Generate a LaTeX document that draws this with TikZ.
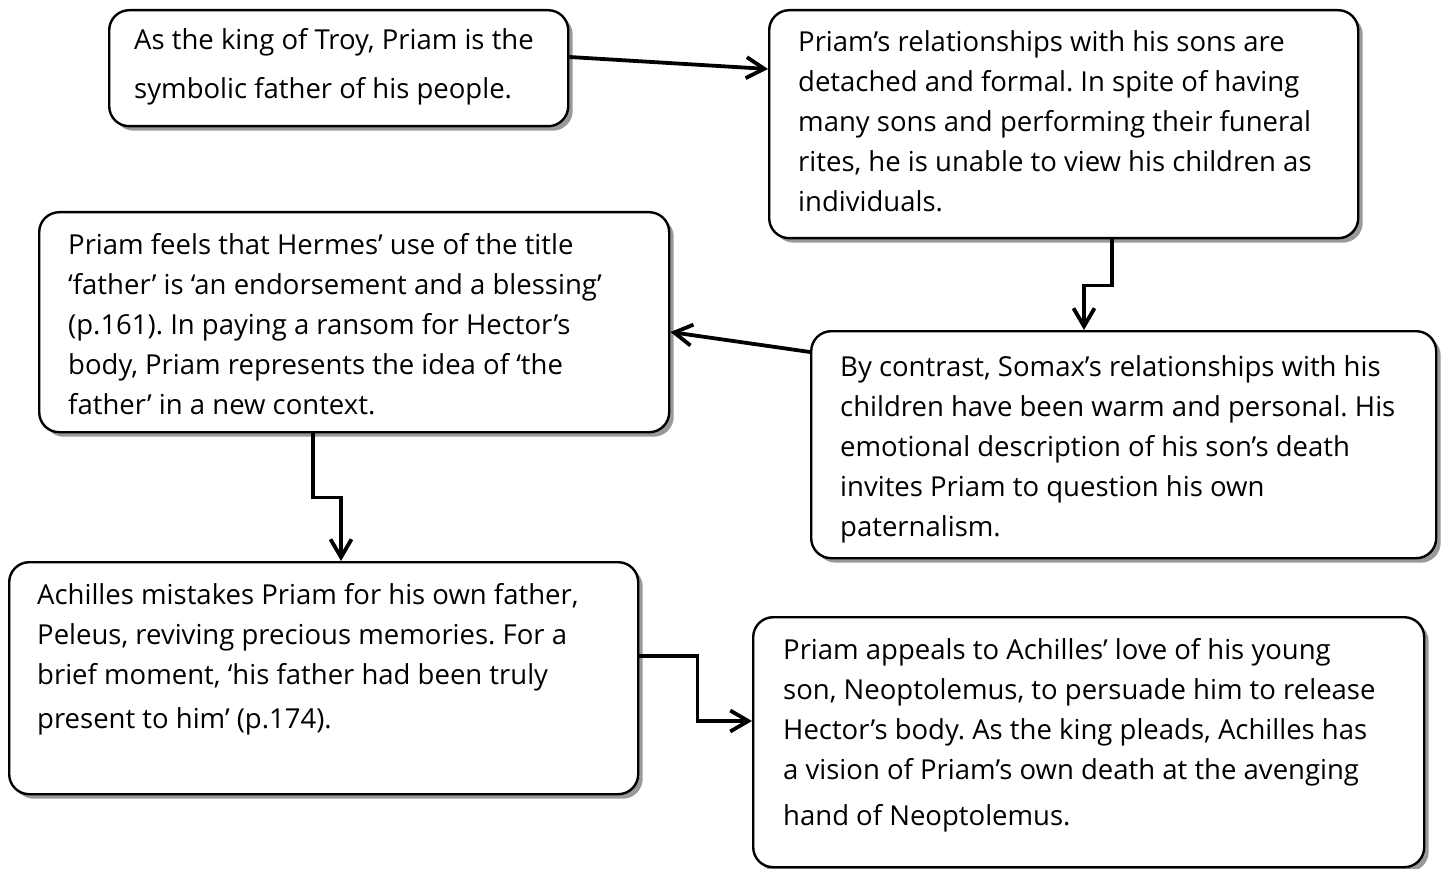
\documentclass[tikz,border=0pt]{standalone}
\usepackage{fontspec}
\setmainfont{Open Sans}
\usetikzlibrary{arrows.meta,shadows}
\frenchspacing

% box body: fixed size, text starts at a given left/top offset
\newcommand\boxbody[5]{% width, height, left pad, top pad, text
  \parbox[t][#2][t]{#1}{\raggedright\leftskip=#3\relax
    \fontsize{27.5}{40}\selectfont\vspace*{#4}#5}}

\tikzset{
  card/.style={draw, line width=2.4pt, rounded corners=20pt, fill=white,
    anchor=north west, inner sep=0pt,
    general shadow={fill=black!40, shadow xshift=4.5pt, shadow yshift=-4.5pt}},
  conn/.style={line width=3.8pt, -{Straight Barb[length=18pt,width=21pt]}}
}

\begin{document}
\begin{tikzpicture}[x=1pt,y=-1pt]
\useasboundingbox (0,0) rectangle (1443,869);

\node[card] (b1) at (108,9) {\boxbody{459pt}{116pt}{25pt}{11pt}{%
  \strut As the king of Troy, Priam is the\\[9pt]
  \strut symbolic father of his people.}};

\node[card] (b2) at (768,9) {\boxbody{589pt}{228pt}{29pt}{13pt}{%
  \strut Priam’s relationships with his sons are\\
  \strut detached and formal. In spite of having\\
  \strut many sons and performing their funeral\\
  \strut rites, he is unable to view his children as\\
  \strut individuals.}};

\node[card] (b3) at (38,211) {\boxbody{630pt}{220pt}{29pt}{14pt}{%
  \strut Priam feels that Hermes’ use of the title\\
  \strut ‘father’ is ‘an endorsement and a blessing’\\
  \strut (p.161). In paying a ransom for Hector’s\\
  \strut body, Priam represents the idea of ‘the\\
  \strut father’ in a new context.}};

\node[card] (b4) at (810,330) {\boxbody{625pt}{227pt}{29pt}{17pt}{%
  \strut By contrast, Somax’s relationships with his\\
  \strut children have been warm and personal. His\\
  \strut emotional description of his son’s death\\
  \strut invites Priam to question his own\\
  \strut paternalism.}};

\node[card] (b5) at (8,561) {\boxbody{629pt}{232pt}{28pt}{14pt}{%
  \strut Achilles mistakes Priam for his own father,\\
  \strut Peleus, reviving precious memories. For a\\
  \strut brief moment, ‘his father had been truly\\[4pt]
  \strut present to him’ (p.174).}};

\node[card] (b6) at (752,616) {\boxbody{671pt}{250pt}{30pt}{14pt}{%
  \strut Priam appeals to Achilles’ love of his young\\
  \strut son, Neoptolemus, to persuade him to release\\
  \strut Hector’s body. As the king pleads, Achilles has\\
  \strut a vision of Priam’s own death at the avenging\\[6pt]
  \strut hand of Neoptolemus.}};

\draw[conn] ([yshift=-48pt]b1.north east) -- ([yshift=-60pt]b2.north west);
\draw[conn] ([xshift=344pt]b2.south west) -- ++(0,46) -| ([xshift=274pt]b4.north west);
\draw[conn] ([yshift=-22pt]b4.north west) -- ([yshift=-121pt]b3.north east);
\draw[conn] ([xshift=275pt]b3.south west) -- ++(0,64) -| ([xshift=333pt]b5.north west);
\draw[conn] ([yshift=-95pt]b5.north east) -- ++(58,0) |- ([yshift=-105pt]b6.north west);
\end{tikzpicture}
\end{document}
